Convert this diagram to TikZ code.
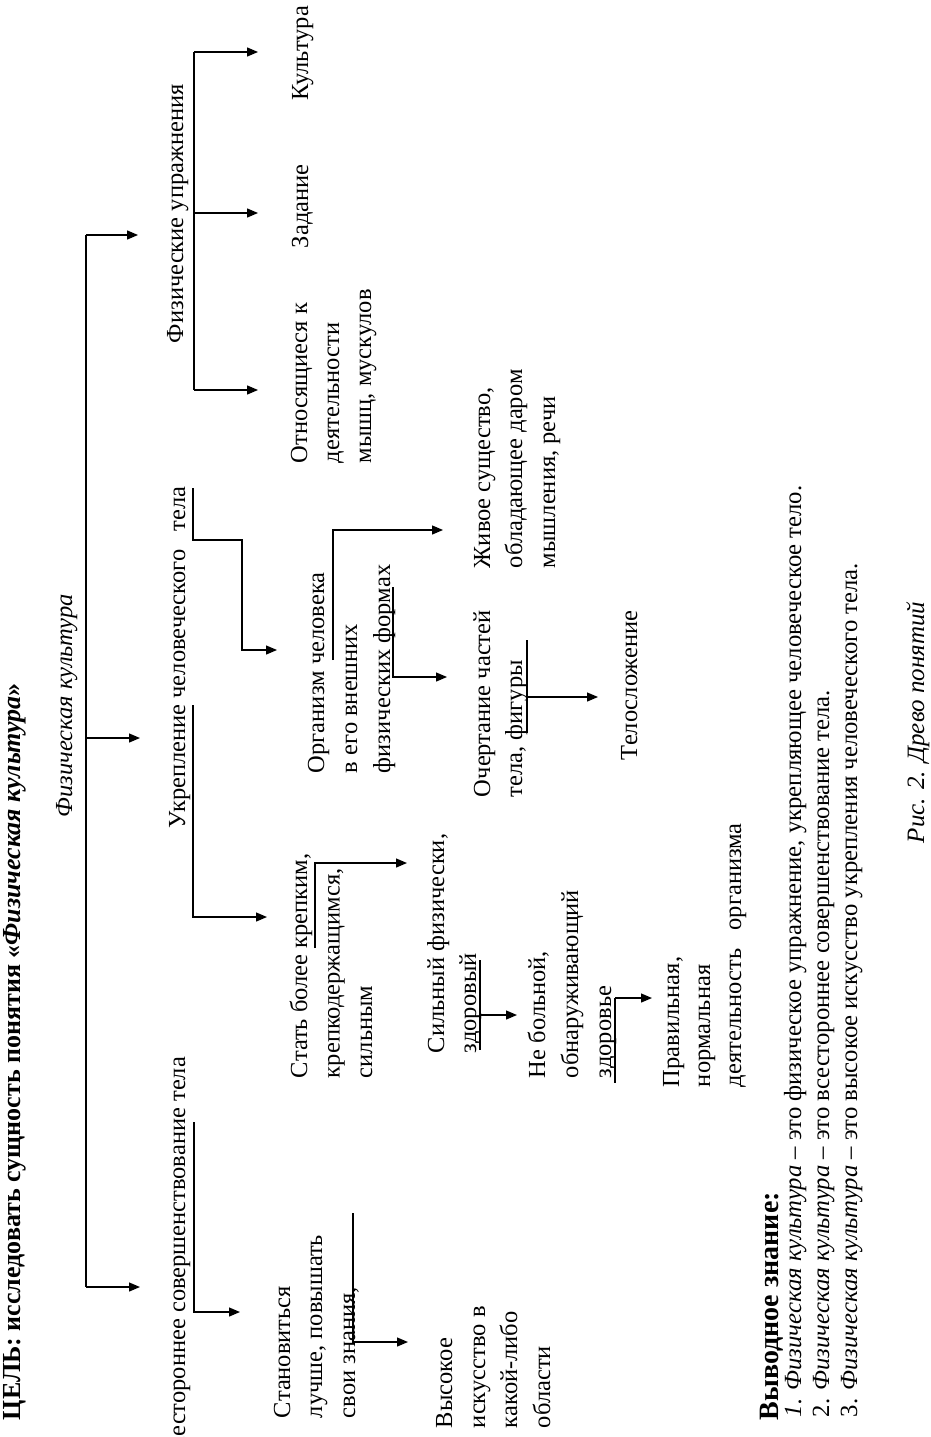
\documentclass[tikz,border=0pt]{standalone}
\usepackage{fontspec}
\setmainfont{Liberation Serif}
\usetikzlibrary{arrows.meta}
\begin{document}
\begin{tikzpicture}[x=1pt,y=-1pt,
  lbl/.style={rotate=90, anchor=base west, inner sep=0pt, outer sep=0pt, font=\fontsize{24.5}{30}\selectfont},
  concl/.style={lbl, font=\fontsize{24.7}{30}\selectfont},
  con/.style={line width=1.3pt},
  arr/.style={con, -{Triangle[length=11pt,width=9pt]}}]
\useasboundingbox[fill=white] (0,0) rectangle (930,1437);

% title
\node[lbl, font=\fontsize{26}{30}\selectfont\bfseries] (goal) at (20,1420) {ЦЕЛЬ: исследовать сущность понятия «\textit{Физическая культура}»};
\node[lbl] (fk) at (72,817) {\itshape Физическая культура};

% level 1
\node[lbl] (fu) at (183,343) {Физические упражнения};
\node[lbl] (uk) at (185,828) {Укрепление человеческого\hspace{0.5em} тела};
\node[lbl, anchor=base east] (vs) at (185,1057) {Всестороннее совершенствование тела};

% branch Физические упражнения
\node[lbl] (ku) at (308,100) {Культура};
\node[lbl] (za) at (308,248) {Задание};
\node[lbl] (ot1) at (307,463) {Относящиеся к};
\node[lbl] (ot2) at (339,463) {деятельности};
\node[lbl] (ot3) at (371,463) {мышц, мускулов};

% branch Укрепление
\node[lbl] (or1) at (324,773) {Организм человека};
\node[lbl] (or2) at (357,773) {в его внешних};
\node[lbl] (or3) at (390,773) {физических формах};
\node[lbl] (zh1) at (490,568) {Живое существо,};
\node[lbl] (zh2) at (522,568) {обладающее даром};
\node[lbl] (zh3) at (555,568) {мышления, речи};
\node[lbl] (oc1) at (490,797) {Очертание частей};
\node[lbl] (oc2) at (522,797) {тела, фигуры};
\node[lbl] (te) at (637,760) {Телосложение};
\node[lbl] (st1) at (307,1078) {Стать более крепким,};
\node[lbl] (st2) at (339.5,1078) {крепкодержащимся,};
\node[lbl] (st3) at (372,1078) {сильным};
\node[lbl] (si1) at (444,1053) {Сильный физически,};
\node[lbl] (si2) at (476,1053) {здоровый};
\node[lbl] (nb1) at (545,1078) {Не больной,};
\node[lbl] (nb2) at (578,1078) {обнаруживающий};
\node[lbl] (nb3) at (611,1078) {здоровье};
\node[lbl] (pr1) at (679,1087) {Правильная,};
\node[lbl] (pr2) at (710,1087) {нормальная};
\node[lbl] (pr3) at (741,1087) {деятельность\hspace{0.5em} организма};

% branch Всестороннее
\node[lbl] (sn1) at (290,1418) {Становиться};
\node[lbl] (sn2) at (322,1418) {лучше, повышать};
\node[lbl] (sn3) at (355,1418) {свои знания,};
\node[lbl] (vy1) at (452,1428) {Высокое};
\node[lbl] (vy2) at (485,1428) {искусство в};
\node[lbl] (vy3) at (517,1428) {какой-либо};
\node[lbl] (vy4) at (550,1428) {области};

% conclusions
\node[lbl, font=\fontsize{28}{30}\selectfont\bfseries] (vz) at (778,1420) {Выводное знание:};
\node[concl] (c1) at (801,1417) {\textit{1. Физическая культура} – это физическое упражнение, укрепляющее человеческое тело.};
\node[concl] (c2) at (829,1417) {2. \textit{Физическая культура} – это всестороннее совершенствование тела.};
\node[concl] (c3) at (857,1417) {3. \textit{Физическая культура} – это высокое искусство укрепления человеческого тела.};
\node[lbl, font=\fontsize{25}{30}\selectfont\itshape] (cap) at (924,843) {Рис. 2. Древо понятий};

% trunk
\coordinate (trT) at (86,235);
\coordinate (trM) at (86,738);
\coordinate (trB) at (86,1287);
\draw[con] (trT) -- (trB);
\coordinate (aFU) at (138,235);
\coordinate (aUK) at (140,738);
\coordinate (aVS) at (140,1287);
\draw[arr] (trT) -- (aFU);
\draw[arr] (trM) -- (aUK);
\draw[arr] (trB) -- (aVS);

% Физические упражнения
\coordinate (fuT) at (194,52);
\coordinate (fuM) at (194,213);
\coordinate (fuB) at (194,390);
\draw[con] (fuT) -- (fuB);
\coordinate (aKU) at (258,52);
\coordinate (aZA) at (258,213);
\coordinate (aOT) at (258,390);
\draw[arr] (fuT) -- (aKU);
\draw[arr] (fuM) -- (aZA);
\draw[arr] (fuB) -- (aOT);

% Укрепление
\coordinate (ukA) at (193,488);
\coordinate (ukB) at (193,540);
\coordinate (ukC) at (242,540);
\coordinate (ukD) at (242,650);
\coordinate (aOR) at (277,650);
\draw[arr] (ukA) -- (ukB) -- (ukC) -- (ukD) -- (aOR);
\coordinate (ukE) at (193,705);
\coordinate (ukF) at (193,917);
\coordinate (aST) at (267,917);
\draw[arr] (ukE) -- (ukF) -- (aST);

% Организм
\coordinate (orA) at (333,660);
\coordinate (orB) at (333,530);
\coordinate (aZH) at (443,530);
\draw[arr] (orA) -- (orB) -- (aZH);
\coordinate (orC) at (393,587);
\coordinate (orD) at (393,677);
\coordinate (aOC) at (447,677);
\draw[arr] (orC) -- (orD) -- (aOC);

% Очертание
\coordinate (ocA) at (527,640);
\coordinate (ocB) at (527,697);
\coordinate (ocC) at (527,733);
\coordinate (aTE) at (598,697);
\draw[con] (ocA) -- (ocC);
\draw[arr] (ocB) -- (aTE);

% Стать
\coordinate (stA) at (315,948);
\coordinate (stB) at (315,863);
\coordinate (aSI) at (407,863);
\draw[arr] (stA) -- (stB) -- (aSI);

% Сильный
\coordinate (siA) at (480,960);
\coordinate (siB) at (480,1015);
\coordinate (siC) at (480,1050);
\coordinate (aNB) at (517,1015);
\draw[con] (siA) -- (siC);
\draw[arr] (siB) -- (aNB);

% Не больной
\coordinate (nbA) at (615,998);
\coordinate (nbB) at (615,1083);
\coordinate (aPR) at (652,998);
\draw[con] (nbA) -- (nbB);
\draw[arr] (nbA) -- (aPR);

% Всестороннее
\coordinate (vsA) at (194,1122);
\coordinate (vsB) at (194,1312);
\coordinate (aSN) at (240,1312);
\draw[arr] (vsA) -- (vsB) -- (aSN);

% Становиться
\coordinate (snA) at (353,1213);
\coordinate (snB) at (353,1342);
\coordinate (aVY) at (408,1342);
\draw[arr] (snA) -- (snB) -- (aVY);
\end{tikzpicture}
\end{document}
